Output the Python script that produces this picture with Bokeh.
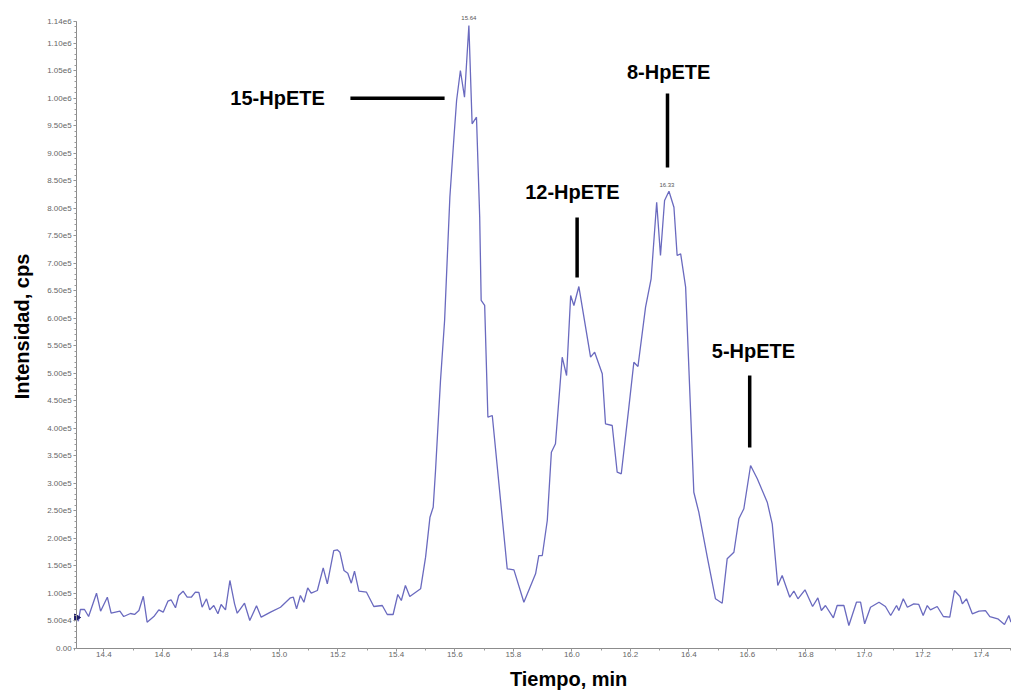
import numpy as np
from bokeh.plotting import figure
from bokeh.models import Range1d, FixedTicker, PrintfTickFormatter, Label
from bokeh.embed import file_html
from bokeh.resources import INLINE

# ---- data (retention time in min, intensity in cps) ----
times = [14.307, 14.313, 14.320, 14.334, 14.348, 14.375, 14.389, 14.412, 14.425, 14.455,
         14.468, 14.491, 14.505, 14.520, 14.535, 14.548, 14.571, 14.588, 14.603, 14.619,
         14.630, 14.645, 14.656, 14.671, 14.685, 14.699, 14.713, 14.725, 14.736, 14.751,
         14.762, 14.776, 14.790, 14.801, 14.816, 14.831, 14.847, 14.856, 14.867, 14.881,
         14.899, 14.922, 14.938, 14.970, 15.004, 15.038, 15.048, 15.059, 15.072, 15.084,
         15.097, 15.109, 15.130, 15.150, 15.164, 15.186, 15.198, 15.207, 15.221, 15.234,
         15.246, 15.257, 15.272, 15.298, 15.323, 15.352, 15.369, 15.389, 15.405, 15.417,
         15.431, 15.446, 15.483, 15.500, 15.515, 15.526, 15.534, 15.551, 15.565, 15.583,
         15.597, 15.606, 15.619, 15.633, 15.648, 15.659, 15.674, 15.685, 15.690, 15.702,
         15.713, 15.728, 15.779, 15.802, 15.836, 15.876, 15.887, 15.899, 15.916, 15.930,
         15.944, 15.967, 15.982, 15.996, 16.007, 16.024, 16.064, 16.078, 16.104, 16.115,
         16.138, 16.155, 16.169, 16.195, 16.212, 16.226, 16.252, 16.271, 16.290, 16.303,
         16.317, 16.332, 16.349, 16.360, 16.372, 16.389, 16.417, 16.434, 16.463, 16.491,
         16.514, 16.531, 16.554, 16.571, 16.588, 16.611, 16.634, 16.668, 16.685, 16.704,
         16.719, 16.745, 16.759, 16.773, 16.797, 16.823, 16.841, 16.853, 16.867, 16.894,
         16.907, 16.930, 16.947, 16.973, 16.987, 17.001, 17.021, 17.050, 17.072, 17.090,
         17.110, 17.118, 17.133, 17.147, 17.169, 17.186, 17.201, 17.215, 17.226, 17.249,
         17.270, 17.292, 17.308, 17.327, 17.335, 17.349, 17.369, 17.392, 17.414, 17.429,
         17.456, 17.479, 17.494, 17.501]

intensity = [55800, 49100, 70400, 70400, 57600, 100000, 67300, 92700, 63600, 67300,
             57600, 63100, 61300, 68500, 94500, 47300, 57600, 69800, 65500, 85500,
             88000, 73500, 95800, 103600, 92700, 92700, 101800, 101300, 74500, 89800,
             69800, 77600, 62500, 79500, 69800, 123100, 80700, 63600, 71600, 81800,
             50400, 77100, 56400, 65500, 74500, 91600, 92700, 71600, 95800, 83600,
             109800, 100000, 104900, 146200, 117100, 177600, 178900, 174500, 141300, 136400,
             118200, 140000, 103600, 101800, 75800, 77600, 61300, 61300, 97600, 86700,
             114000, 94000, 108000, 165500, 238200, 256400, 323100, 486700, 595800, 820000,
             929100, 995800, 1050400, 1001800, 1132200, 953500, 965500, 783600, 632200, 623100,
             420000, 423100, 144400, 142500, 83600, 135300, 168500, 168500, 232200, 356400,
             371600, 529100, 495800, 641300, 623100, 657600, 529100, 538200, 498900, 408000,
             404900, 320000, 317100, 438200, 520000, 512200, 620000, 671600, 810900, 714000,
             814000, 830900, 801800, 714000, 717100, 656400, 283600, 247300, 165500, 89800,
             81800, 162500, 174500, 235300, 253500, 332200, 308000, 265500, 226200, 114000,
             132200, 92700, 104000, 89800, 106200, 75800, 91600, 68500, 77600, 55300,
             77600, 77600, 41300, 83600, 83600, 44400, 74500, 83600, 75800, 59500,
             77600, 68500, 89800, 74500, 80700, 79500, 59500, 77600, 69800, 75800,
             57600, 56400, 104900, 94000, 80700, 89800, 62500, 67300, 68500, 57600,
             53500, 43100, 59500, 47300]

# axis ticks and labels
x_ticks = [14.4, 14.6, 14.8, 15.0, 15.2, 15.4, 15.6, 15.8, 16.0, 16.2, 16.4, 16.6, 16.8, 17.0, 17.2, 17.4]
y_ticks = [0, 50000, 100000, 150000, 200000, 250000, 300000, 350000, 400000, 450000, 500000,
           550000, 600000, 650000, 700000, 750000, 800000, 850000, 900000, 950000, 1000000,
           1050000, 1100000, 1140000]
y_tick_labels = ["0.00", "5.00e4", "1.00e5", "1.50e5", "2.00e5", "2.50e5", "3.00e5", "3.50e5",
                 "4.00e5", "4.50e5", "5.00e5", "5.50e5", "6.00e5", "6.50e5", "7.00e5", "7.50e5",
                 "8.00e5", "8.50e5", "9.00e5", "9.50e5", "1.00e6", "1.05e6", "1.10e6", "1.14e6"]
x_axis_bounds = (14.307, 17.503)
y_axis_bounds = (0, 1140000)

# peak annotations
peak_names = ["15-HpETE", "12-HpETE", "8-HpETE", "5-HpETE"]
peak_label_x = [14.994, 16.002, 16.331, 16.621]
peak_label_y = [999500, 830000, 1048500, 541000]
pointer_x0 = [15.243, 16.018, 16.327, 16.608]
pointer_x1 = [15.565, 16.018, 16.327, 16.608]
pointer_y0 = [1000000, 783000, 1008500, 495800]
pointer_y1 = [1000000, 674000, 874000, 364900]
apex_text = ["15.64", "16.33"]
apex_x = [15.648, 16.325]
apex_y = [1146700, 841300]

FONT = "Liberation Sans"

# the frame spans the whole canvas; axes are pinned with fixed_location
p = figure(width=1011, height=690, output_backend="svg", toolbar_location=None,
           x_range=Range1d(14.0468, 17.503), y_range=Range1d(-76909, 1177636),
           min_border_left=0, min_border_right=0, min_border_top=0, min_border_bottom=0)
p.outline_line_color = None
p.xgrid.grid_line_color = None
p.ygrid.grid_line_color = None
p.background_fill_color = "white"
p.border_fill_color = "white"

for ax in (p.xaxis[0], p.yaxis[0]):
    ax.axis_line_color = "#8c8c8c"
    ax.major_tick_line_color = "#8c8c8c"
    ax.minor_tick_line_color = "#9a9a9a"
    ax.major_tick_in = 0
    ax.major_tick_out = 3
    ax.minor_tick_in = 0
    ax.minor_tick_out = 2
    ax.major_label_text_font = FONT
    ax.major_label_text_font_size = "8px"
    ax.major_label_text_color = "#666666"

p.yaxis.fixed_location = x_axis_bounds[0]
p.yaxis.bounds = y_axis_bounds
p.yaxis.ticker = FixedTicker(ticks=y_ticks, minor_ticks=list(range(0, 1140001, 10000)))
p.yaxis.major_label_overrides = {t: l for t, l in zip(y_ticks, y_tick_labels)}
p.yaxis.major_label_standoff = 2

p.xaxis.fixed_location = y_axis_bounds[0]
p.xaxis.bounds = x_axis_bounds
p.xaxis.ticker = FixedTicker(ticks=x_ticks, minor_ticks=[round(14.3 + 0.1 * i, 1) for i in range(33)])
p.xaxis.formatter = PrintfTickFormatter(format="%.1f")
p.xaxis.major_label_standoff = 1

p.line(times, intensity, line_color="#6a6abf", line_width=1.3)
p.scatter([times[0]], [intensity[0]], marker="triangle", angle=-np.pi / 2, size=7,
          fill_color="#1c1c6a", line_color="#1c1c6a")

p.segment(x0=pointer_x0, y0=pointer_y0, x1=pointer_x1, y1=pointer_y1,
          line_color="black", line_width=3.5)

for name, lx, ly in zip(peak_names, peak_label_x, peak_label_y):
    p.add_layout(Label(x=lx, y=ly, text=name, text_align="center", text_baseline="middle",
                       text_font=FONT, text_font_style="bold", text_font_size="20px",
                       text_color="black"))

for txt, ax_, ay in zip(apex_text, apex_x, apex_y):
    p.add_layout(Label(x=ax_, y=ay, text=txt, text_align="center", text_baseline="middle",
                       text_font=FONT, text_font_size="6px", text_color="#555555"))

# axis titles
p.add_layout(Label(x=15.989, y=-55100, text="Tiempo, min", text_align="center",
                   text_baseline="middle", text_font=FONT, text_font_style="bold",
                   text_font_size="20px", text_color="black"))
p.add_layout(Label(x=14.122, y=584900, text="Intensidad, cps", angle=np.pi / 2,
                   text_align="center", text_baseline="middle", text_font=FONT,
                   text_font_style="bold", text_font_size="20px", text_color="black"))

open("out.html", "w").write(file_html(p, INLINE))
